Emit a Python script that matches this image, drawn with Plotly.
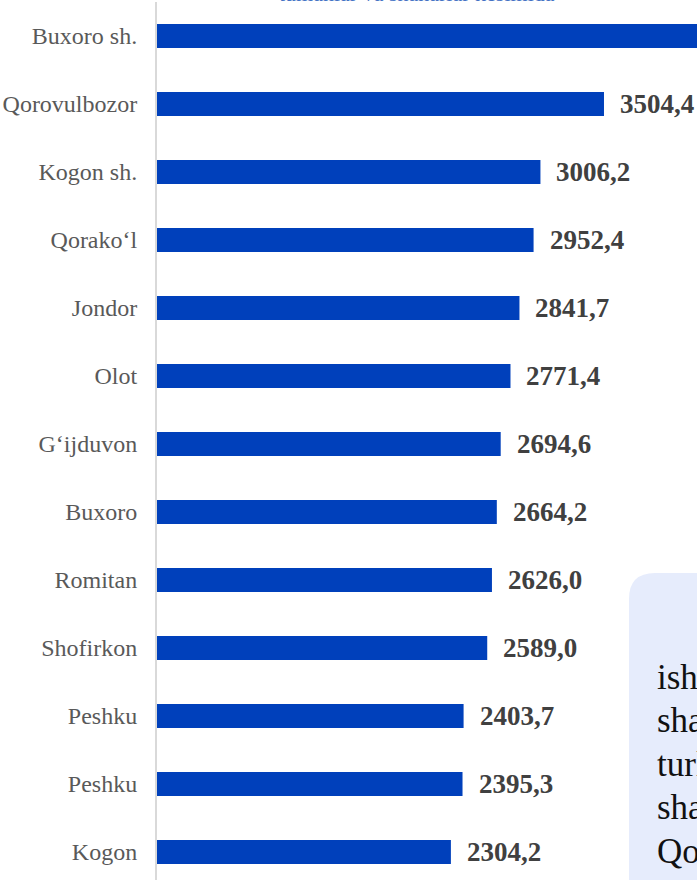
import plotly.graph_objects as go

categories = ["Buxoro sh.", "Qorovulbozor", "Kogon sh.", "Qorako‘l", "Jondor", "Olot",
              "G‘ijduvon", "Buxoro", "Romitan", "Shofirkon", "Peshku", "Peshku", "Kogon"]
values = [4500.0, 3504.4, 3006.2, 2952.4, 2841.7, 2771.4,
          2694.6, 2664.2, 2626.0, 2589.0, 2403.7, 2395.3, 2304.2]
title_text = "tumanlar va shaharlar kesimida"
box_lines = ["ishlab", "shahar", "turli", "shahri", "Qorovulbozor"]

W, H = 697, 880
ML, MT = 157, 2
PW, PH = W - ML, H - MT
PX_PER_UNIT = 0.12755
XMAX = PW / PX_PER_UNIT
BAND = 68
YMAX = -0.5 + PH / BAND

pos = list(range(len(categories)))

fig = go.Figure()
fig.add_trace(go.Bar(
    x=values, y=pos, orientation="h", width=24 / BAND,
    marker=dict(color="#0040BB", line=dict(width=0)),
    hoverinfo="skip",
))

def fmt(v):
    return f"{v:.1f}".replace(".", ",")

annotations = []
for v, p in zip(values, pos):
    annotations.append(dict(
        x=v, y=p, xref="x", yref="y", text=fmt(v), showarrow=False,
        xanchor="left", yanchor="middle", xshift=14,
        font=dict(family="Liberation Serif", size=27, color="#404040", weight="bold"),
    ))

def ppx(px):
    return (px - ML) / PW

def ppy(py):
    return (H - py) / PH

# title partially cut at top
annotations.append(dict(
    x=ppx(417), y=ppy(8), xref="paper", yref="paper", text=title_text,
    showarrow=False, xanchor="center", yanchor="bottom",
    font=dict(family="Liberation Serif", size=22, color="#4472C4"),
))

# text in the box
line_y = [677, 720, 764, 807, 851]
for t, yy in zip(box_lines, line_y):
    annotations.append(dict(
        x=ppx(655), y=ppy(yy), xref="paper", yref="paper", text=t,
        showarrow=False, xanchor="left", yanchor="middle",
        font=dict(family="Liberation Serif", size=35, color="#111111"),
    ))

bx, by, r = 629, 573, 26
path = (f"M {ppx(bx)},{ppy(900)} L {ppx(bx)},{ppy(by + r)} "
        f"Q {ppx(bx)},{ppy(by)} {ppx(bx + r)},{ppy(by)} "
        f"L {ppx(760)},{ppy(by)} L {ppx(760)},{ppy(900)} Z")
shapes = [dict(type="path", path=path, xref="paper", yref="paper",
               fillcolor="#E6ECFC", line=dict(width=0), layer="below")]

fig.update_layout(
    width=W, height=H,
    margin=dict(l=ML, r=0, t=MT, b=0, pad=0),
    plot_bgcolor="white", paper_bgcolor="white",
    showlegend=False,
    annotations=annotations,
    shapes=shapes,
    xaxis=dict(range=[0, XMAX], showgrid=False, zeroline=False,
               showticklabels=False, showline=False, ticks=""),
    yaxis=dict(range=[YMAX, -0.5], tickvals=pos, ticktext=categories,
               showgrid=False, zeroline=False, showline=True,
               linecolor="#D9D9D9", linewidth=2, ticks="",
               ticklabelstandoff=13,
               tickfont=dict(family="Liberation Serif", size=24, color="#595959")),
)

fig.write_html(
    "out.html",
    config={"displayModeBar": False},
    post_script="document.body.style.margin='0';document.body.style.overflow='hidden';",
)
